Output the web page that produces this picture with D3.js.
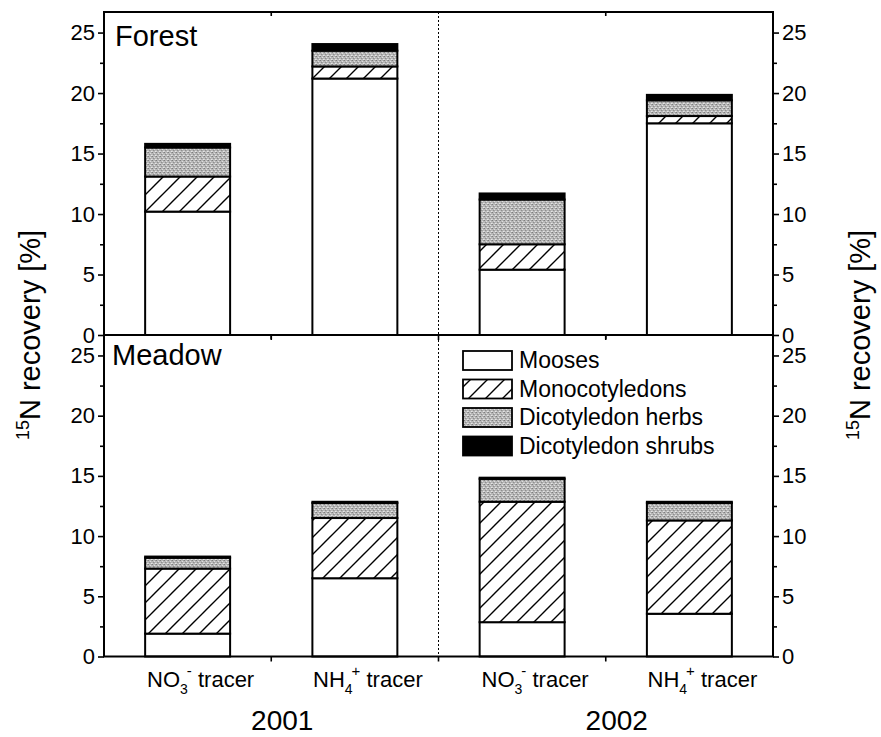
<!DOCTYPE html>
<html>
<head>
<meta charset="utf-8">
<script src="https://cdn.jsdelivr.net/npm/d3@7/dist/d3.min.js"></script>
<style>
  html, body { margin: 0; padding: 0; background: #fff; }
  svg { display: block; font-family: "Liberation Sans", Arial, sans-serif; }
</style>
</head>
<body>
<svg id="chart" width="881" height="737"></svg>
<script>
// Bar order: 2001 NO3-, 2001 NH4+, 2002 NO3-, 2002 NH4+
const bars = ["2001-NO3", "2001-NH4", "2002-NO3", "2002-NH4"];
const years = ["2001", "2002"];
const fractions = ["Mooses", "Monocotyledons", "Dicotyledon herbs", "Dicotyledon shrubs"];
const sites = ["Forest", "Meadow"];

// 15N recovery [%] per plant fraction
const forestMooses  = [10.2, 21.2, 5.4, 17.5];
const forestMono    = [2.9, 1.0, 2.1, 0.6];
const forestHerbs   = [2.4, 1.3, 3.7, 1.3];
const forestShrubs  = [0.3, 0.55, 0.5, 0.45];

const meadowMooses  = [1.9, 6.5, 2.85, 3.55];
const meadowMono    = [5.4, 5.0, 10.0, 7.75];
const meadowHerbs   = [0.9, 1.25, 1.9, 1.45];
const meadowShrubs  = [0.1, 0.1, 0.1, 0.1];

const yMajor = [0, 5, 10, 15, 20, 25];
const yMinor = [2.5, 7.5, 12.5, 17.5, 22.5];

const siteData = {
  Forest: [forestMooses, forestMono, forestHerbs, forestShrubs],
  Meadow: [meadowMooses, meadowMono, meadowHerbs, meadowShrubs]
};

const svg = d3.select("#chart");
const left = 104, right = 773;
const panelBox = { Forest: [12, 335], Meadow: [335, 656.5] };

const x = d3.scaleBand().domain(bars).range([left, right])
  .paddingInner(0.492).paddingOuter(0.246);
const xYear = d3.scaleBand().domain(years).range([left, right]);
const gap = (x.step() - x.bandwidth()) / 2;

// fill patterns
const defs = svg.append("defs");
const hatch = defs.append("pattern").attr("id", "hatch")
  .attr("patternUnits", "userSpaceOnUse").attr("width", 17).attr("height", 17);
hatch.append("rect").attr("width", 17).attr("height", 17).attr("fill", "#fff");
hatch.append("path").attr("d", "M0,17 L17,0 M-4,4 L4,-4 M13,21 L21,13")
  .attr("stroke", "#000").attr("stroke-width", 1.4);

const stip = defs.append("pattern").attr("id", "stipple")
  .attr("patternUnits", "userSpaceOnUse").attr("width", 4).attr("height", 4);
stip.append("rect").attr("width", 4).attr("height", 4).attr("fill", "#b8b8b8");
[[0,0,"#7e7e7e"],[2,1,"#dedede"],[1,2,"#8e8e8e"],[3,3,"#e6e6e6"],[3,0,"#9c9c9c"],[0,3,"#d4d4d4"],[2,2,"#a4a4a4"]]
  .forEach(([px, py, c]) => stip.append("rect").attr("x", px).attr("y", py)
    .attr("width", 1).attr("height", 1).attr("fill", c));

const fills = ["#ffffff", "url(#hatch)", "url(#stipple)", "#000000"];
const color = d3.scaleOrdinal().domain(fractions).range(fills);

sites.forEach(site => {
  const [top, bottom] = panelBox[site];
  const y = d3.scaleLinear().domain([0, 26.7]).range([bottom, top]);

  const rows = bars.map((b, i) => {
    const r = { bar: b };
    fractions.forEach((f, k) => { r[f] = siteData[site][k][i]; });
    return r;
  });
  const stack = d3.stack().keys(fractions)(rows);

  const g = svg.append("g");
  stack.forEach(layer => {
    g.selectAll(null).data(layer).enter().append("rect")
      .attr("x", d => x(d.data.bar))
      .attr("width", x.bandwidth())
      .attr("y", d => y(d[1]))
      .attr("height", d => y(d[0]) - y(d[1]))
      .attr("fill", color(layer.key))
      .attr("stroke", "#000")
      .attr("stroke-width", 2);
  });

  // frame
  svg.append("rect").attr("x", left).attr("y", top)
    .attr("width", right - left).attr("height", bottom - top)
    .attr("fill", "none").attr("stroke", "#000").attr("stroke-width", 2);

  // y axes on both sides
  const axL = svg.append("g").attr("transform", `translate(${left},0)`)
    .call(d3.axisLeft(y).tickValues(yMajor).tickSize(6).tickPadding(3));
  const axLm = svg.append("g").attr("transform", `translate(${left},0)`)
    .call(d3.axisLeft(y).tickValues(yMinor).tickSize(4).tickFormat(""));
  const axR = svg.append("g").attr("transform", `translate(${right},0)`)
    .call(d3.axisRight(y).tickValues(yMajor).tickSize(6).tickPadding(3));
  const axRm = svg.append("g").attr("transform", `translate(${right},0)`)
    .call(d3.axisRight(y).tickValues(yMinor).tickSize(4).tickFormat(""));
  [axL, axLm, axR, axRm].forEach(a => {
    a.select(".domain").remove();
    a.selectAll(".tick line").attr("stroke", "#000").attr("stroke-width", 1.6);
    a.selectAll("text").attr("font-size", 22).attr("fill", "#000")
      .attr("font-family", "Liberation Sans, Arial, sans-serif");
  });

  // x ticks at group boundaries
  const sep = [x(bars[1]) - gap, xYear("2002"), x(bars[3]) - gap];
  svg.append("g").selectAll("line").data(sep).enter().append("line")
    .attr("x1", d => d).attr("x2", d => d)
    .attr("y1", bottom).attr("y2", bottom + 5)
    .attr("stroke", "#000").attr("stroke-width", 1.6);
  svg.append("g").selectAll("line").data([sep[0], sep[2]]).enter().append("line")
    .attr("x1", d => d).attr("x2", d => d)
    .attr("y1", top).attr("y2", top + 4)
    .attr("stroke", "#000").attr("stroke-width", 1.6);

  // site label
  svg.append("text").attr("x", site === "Forest" ? 115 : 112)
    .attr("y", site === "Forest" ? 46 : 365)
    .attr("font-size", 29).text(site);
});

// year divider
svg.append("line").attr("x1", xYear("2002")).attr("x2", xYear("2002"))
  .attr("y1", panelBox.Forest[0]).attr("y2", panelBox.Meadow[1])
  .attr("stroke", "#000").attr("stroke-width", 1).attr("stroke-dasharray", "2,2");

// x tick labels with chemical formulas
const ion = { NO3: ["NO", "3", "-"], NH4: ["NH", "4", "+"] };
bars.forEach(b => {
  const t = b.split("-")[1];
  const [base, sub, sup] = ion[t];
  const txt = svg.append("text")
    .attr("x", x(b) + x.bandwidth() / 2 + 13).attr("y", 687)
    .attr("text-anchor", "middle").attr("font-size", 22);
  txt.append("tspan").text(base);
  txt.append("tspan").attr("font-size", 14).attr("dy", 7).text(sub);
  txt.append("tspan").attr("font-size", 15).attr("dx", -1).attr("dy", -18).text(sup);
  txt.append("tspan").attr("dy", 11).text(" tracer");
});

// year labels
years.forEach(yr => {
  svg.append("text").attr("x", xYear(yr) + xYear.bandwidth() / 2 + 11).attr("y", 730)
    .attr("text-anchor", "middle").attr("font-size", 28).text(yr);
});

// y axis titles
[[40, 335], [870, 335]].forEach(([tx, ty]) => {
  const t = svg.append("text").attr("transform", `translate(${tx},${ty}) rotate(-90)`)
    .attr("text-anchor", "middle").attr("font-size", 29);
  t.append("tspan").attr("font-size", 18).attr("dy", -11).text("15");
  t.append("tspan").attr("dy", 11).text("N recovery [%]");
});

// legend
const lg = svg.append("g");
fractions.forEach((f, i) => {
  const yy = 351 + i * 28.5;
  lg.append("rect").attr("x", 463).attr("y", yy).attr("width", 49).attr("height", 19)
    .attr("fill", color(f)).attr("stroke", "#000").attr("stroke-width", 1.8);
  lg.append("text").attr("x", 519).attr("y", yy + 17).attr("font-size", 23).text(f);
});
</script>
</body>
</html>
